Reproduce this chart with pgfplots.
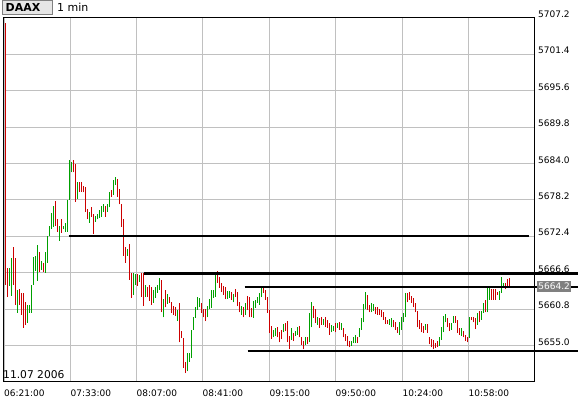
\documentclass[border=0pt]{standalone}
\usepackage{fontspec}
\setmainfont{DejaVu Sans}
\usepackage{pgfplots}
\pgfplotsset{compat=1.18}
\definecolor{upg}{RGB}{0,160,0}
\definecolor{dnr}{RGB}{204,0,0}
\definecolor{gridg}{RGB}{192,192,192}
\definecolor{boxg}{RGB}{230,230,230}
\definecolor{pxg}{RGB}{128,128,128}

\begin{document}
\begin{tikzpicture}
\useasboundingbox (-3bp,-17bp) rectangle (575bp,381bp);
\begin{axis}[
  scale only axis, width=531bp, height=363bp,
  xmin=2.5, xmax=533.5, ymin=5649.35, ymax=5707.2,
  clip=false, unbounded coords=jump,
  axis line style={black, line width=1bp},
  major tick length=0pt,
  xtick={3.5,70,136,202,269,335,402,468},
  xticklabels={06:21:00,07:33:00,08:07:00,08:41:00,09:15:00,09:50:00,10:24:00,10:58:00},
  ytick={5655.0,5660.8,5666.6,5672.4,5678.2,5684.0,5689.8,5695.6,5701.4,5707.2},
  yticklabels={5655.0,5660.8,5666.6,5672.4,5678.2,5684.0,5689.8,5695.6,5701.4,5707.2},
  yticklabel pos=right,
  grid=major, major grid style={gridg, line width=1bp},
  xticklabel style={anchor=base west, inner sep=0pt, yshift=-15bp, font=\fontsize{9bp}{10bp}\selectfont},
  yticklabel style={anchor=base west, inner sep=0pt, xshift=4bp, yshift=0.5bp, font=\fontsize{9bp}{10bp}\selectfont},
]
% rising bars (green): each bar = (x,low) (x,high) (x,nan)
\addplot[upg, line width=1bp, mark=none, forget plot] coordinates {
(9,5664.5)(9,5667.4)(9,nan) (11,5662.9)(11,5669.0)(11,nan) (17,5660.2)(17,5663.9)(17,nan)
(27,5658.6)(27,5661.5)(27,nan) (29,5660.2)(29,5661.5)(29,nan) (31,5660.2)(31,5664.7)(31,nan)
(33,5664.7)(33,5669.1)(33,nan) (35,5666.9)(35,5669.3)(35,nan) (37,5665.3)(37,5671.1)(37,nan)
(41,5667.1)(41,5668.5)(41,nan) (45,5666.6)(45,5669.9)(45,nan) (47,5668.2)(47,5672.5)(47,nan)
(49,5672.5)(49,5674.1)(49,nan) (51,5673.5)(51,5676.2)(51,nan) (53,5673.9)(53,5677.3)(53,nan)
(59,5671.7)(59,5674.1)(59,nan) (63,5673.5)(63,5674.1)(63,nan) (65,5673.1)(65,5674.6)(65,nan)
(67,5673.1)(67,5678.2)(67,nan) (69,5678.2)(69,5684.6)(69,nan) (71,5682.6)(71,5684.2)(71,nan)
(77,5678.4)(77,5681.1)(77,nan) (89,5674.6)(89,5676.3)(89,nan) (95,5674.7)(95,5675.7)(95,nan)
(97,5675.1)(97,5675.9)(97,nan) (99,5675.4)(99,5676.6)(99,nan) (101,5675.5)(101,5677.3)(101,nan)
(103,5676.3)(103,5677.5)(103,nan) (107,5676.3)(107,5677.5)(107,nan) (109,5677.0)(109,5679.5)(109,nan)
(113,5679.0)(113,5681.4)(113,nan) (115,5680.6)(115,5681.9)(115,nan) (127,5669.3)(127,5670.4)(127,nan)
(133,5663.1)(133,5666.6)(133,nan) (135,5664.7)(135,5666.4)(135,nan) (139,5665.1)(139,5666.3)(139,nan)
(145,5662.7)(145,5664.7)(145,nan) (153,5661.8)(153,5663.9)(153,nan) (155,5662.6)(155,5664.3)(155,nan)
(157,5663.4)(157,5664.7)(157,nan) (159,5663.9)(159,5665.8)(159,nan) (163,5659.5)(163,5662.4)(163,nan)
(167,5661.6)(167,5663.2)(167,nan) (177,5658.9)(177,5660.7)(177,nan) (187,5650.9)(187,5653.8)(187,nan)
(189,5652.4)(189,5653.8)(189,nan) (191,5653.0)(191,5657.5)(191,nan) (193,5657.5)(193,5659.5)(193,nan)
(195,5659.4)(195,5661.1)(195,nan) (197,5660.7)(197,5662.7)(197,nan) (199,5661.1)(199,5662.6)(199,nan)
(207,5659.5)(207,5661.3)(207,nan) (209,5660.8)(209,5662.4)(209,nan) (211,5661.0)(211,5663.9)(211,nan)
(213,5662.6)(213,5663.9)(213,nan) (215,5662.7)(215,5666.3)(215,nan) (227,5662.4)(227,5663.7)(227,nan)
(229,5662.6)(229,5663.7)(229,nan) (233,5661.9)(233,5663.2)(233,nan) (241,5659.9)(241,5661.3)(241,nan)
(245,5659.9)(245,5661.8)(245,nan) (253,5659.4)(253,5662.1)(253,nan) (255,5661.0)(255,5662.3)(255,nan)
(257,5661.8)(257,5662.7)(257,nan) (259,5661.5)(259,5663.4)(259,nan) (261,5662.7)(261,5664.5)(261,nan)
(273,5656.3)(273,5657.5)(273,nan) (275,5656.5)(275,5657.8)(275,nan) (283,5657.1)(283,5658.4)(283,nan)
(291,5655.9)(291,5657.8)(291,nan) (295,5656.5)(295,5657.3)(295,nan) (297,5656.7)(297,5657.9)(297,nan)
(305,5655.1)(305,5656.3)(305,nan) (309,5655.5)(309,5660.2)(309,nan) (311,5657.9)(311,5661.9)(311,nan)
(317,5658.3)(317,5659.5)(317,nan) (323,5658.3)(323,5659.2)(323,nan) (331,5657.1)(331,5658.3)(331,nan)
(333,5657.3)(333,5658.1)(333,nan) (337,5657.8)(337,5658.6)(337,nan) (341,5657.5)(341,5658.6)(341,nan)
(351,5654.9)(351,5655.7)(351,nan) (353,5655.4)(353,5656.3)(353,nan) (355,5655.4)(355,5656.7)(355,nan)
(359,5656.3)(359,5657.8)(359,nan) (361,5657.5)(361,5659.4)(361,nan) (363,5658.7)(363,5661.6)(363,nan)
(365,5660.8)(365,5663.5)(365,nan) (371,5660.3)(371,5661.8)(371,nan) (373,5660.5)(373,5661.6)(373,nan)
(389,5658.3)(389,5659.2)(389,nan) (391,5657.9)(391,5659.4)(391,nan) (399,5656.7)(399,5658.7)(399,nan)
(401,5657.5)(401,5659.5)(401,nan) (403,5658.7)(403,5660.2)(403,nan) (405,5659.5)(405,5663.4)(405,nan)
(425,5657.5)(425,5658.4)(425,nan) (439,5654.9)(439,5656.3)(439,nan) (441,5655.9)(441,5657.9)(441,nan)
(443,5657.1)(443,5659.7)(443,nan) (445,5658.7)(445,5660.0)(445,nan) (451,5657.5)(451,5658.6)(451,nan)
(453,5658.6)(453,5659.7)(453,nan) (461,5656.5)(461,5657.8)(461,nan) (469,5656.2)(469,5659.5)(469,nan)
(477,5658.3)(477,5660.2)(477,nan) (481,5659.1)(481,5660.5)(481,nan) (483,5660.2)(483,5661.8)(483,nan)
(487,5660.3)(487,5664.3)(487,nan) (489,5662.3)(489,5664.3)(489,nan) (499,5662.3)(499,5663.7)(499,nan)
(501,5663.4)(501,5665.9)(501,nan) (503,5664.3)(503,5665.0)(503,nan)
};
% falling bars (red)
\addplot[dnr, line width=1bp, mark=none, forget plot] coordinates {
(5,5664.7)(5,5706.4)(5,nan) (7,5662.7)(7,5667.4)(7,nan) (13,5664.7)(13,5670.7)(13,nan)
(15,5661.5)(15,5669.0)(15,nan) (19,5661.5)(19,5664.0)(19,nan) (21,5659.9)(21,5663.4)(21,nan)
(23,5657.8)(23,5663.4)(23,nan) (25,5658.3)(25,5661.9)(25,nan) (39,5666.7)(39,5669.9)(39,nan)
(43,5666.7)(43,5668.2)(43,nan) (55,5674.1)(55,5678.1)(55,nan) (57,5673.1)(57,5675.2)(57,nan)
(61,5673.0)(61,5675.2)(61,nan) (73,5682.6)(73,5684.6)(73,nan) (75,5677.9)(75,5684.0)(75,nan)
(79,5679.5)(79,5681.0)(79,nan) (81,5679.5)(81,5681.0)(81,nan) (83,5679.4)(83,5680.5)(83,nan)
(85,5676.3)(85,5680.3)(85,nan) (87,5675.1)(87,5676.8)(87,nan) (91,5675.5)(91,5677.1)(91,nan)
(93,5672.7)(93,5675.9)(93,nan) (105,5675.5)(105,5677.3)(105,nan) (111,5678.7)(111,5679.8)(111,nan)
(117,5678.7)(117,5681.6)(117,nan) (119,5677.5)(119,5680.0)(119,nan) (121,5673.9)(121,5677.6)(121,nan)
(123,5669.3)(123,5675.1)(123,nan) (125,5668.2)(125,5670.7)(125,nan) (129,5665.5)(129,5671.2)(129,nan)
(131,5662.6)(131,5666.6)(131,nan) (137,5664.5)(137,5666.4)(137,nan) (141,5662.7)(141,5666.6)(141,nan)
(143,5661.3)(143,5666.6)(143,nan) (147,5662.7)(147,5664.3)(147,nan) (149,5662.1)(149,5664.7)(149,nan)
(151,5661.5)(151,5664.3)(151,nan) (161,5660.3)(161,5665.5)(161,nan) (165,5661.1)(165,5663.9)(165,nan)
(169,5661.8)(169,5662.7)(169,nan) (171,5660.2)(171,5661.9)(171,nan) (173,5659.9)(173,5661.3)(173,nan)
(175,5659.7)(175,5661.1)(175,nan) (179,5655.5)(179,5661.8)(179,nan) (181,5656.2)(181,5657.3)(181,nan)
(183,5651.4)(183,5656.2)(183,nan) (185,5650.6)(185,5652.4)(185,nan) (201,5660.2)(201,5661.8)(201,nan)
(203,5659.5)(203,5660.8)(203,nan) (205,5658.9)(205,5660.8)(205,nan) (217,5665.0)(217,5666.9)(217,nan)
(219,5664.2)(219,5665.9)(219,nan) (221,5663.5)(221,5665.0)(221,nan) (223,5663.1)(223,5664.5)(223,nan)
(225,5662.4)(225,5664.3)(225,nan) (231,5662.3)(231,5663.5)(231,nan) (235,5662.7)(235,5664.0)(235,nan)
(237,5661.3)(237,5663.5)(237,nan) (239,5660.3)(239,5661.9)(239,nan) (243,5659.5)(243,5661.1)(243,nan)
(247,5660.7)(247,5662.9)(247,nan) (249,5659.5)(249,5662.7)(249,nan) (251,5659.5)(251,5661.0)(251,nan)
(263,5663.4)(263,5664.5)(263,nan) (265,5662.3)(265,5663.9)(265,nan) (267,5660.2)(267,5662.7)(267,nan)
(269,5657.0)(269,5660.7)(269,nan) (271,5656.0)(271,5658.1)(271,nan) (277,5656.3)(277,5657.9)(277,nan)
(279,5655.5)(279,5657.1)(279,nan) (281,5656.0)(281,5657.5)(281,nan) (285,5657.3)(285,5658.6)(285,nan)
(287,5655.5)(287,5658.9)(287,nan) (289,5654.4)(289,5656.5)(289,nan) (293,5655.7)(293,5657.0)(293,nan)
(299,5656.3)(299,5658.1)(299,nan) (301,5655.1)(301,5656.3)(301,nan) (303,5654.4)(303,5655.7)(303,nan)
(307,5655.2)(307,5656.3)(307,nan) (313,5659.4)(313,5661.3)(313,nan) (315,5658.6)(315,5660.8)(315,nan)
(319,5657.8)(319,5659.4)(319,nan) (321,5658.3)(321,5659.5)(321,nan) (325,5657.9)(325,5659.5)(325,nan)
(327,5657.8)(327,5659.1)(327,nan) (329,5656.7)(329,5658.6)(329,nan) (335,5657.1)(335,5658.6)(335,nan)
(339,5657.5)(339,5658.7)(339,nan) (343,5656.3)(343,5657.8)(343,nan) (345,5655.7)(345,5656.8)(345,nan)
(347,5654.9)(347,5656.5)(347,nan) (349,5654.7)(349,5655.7)(349,nan) (357,5655.4)(357,5656.3)(357,nan)
(367,5660.7)(367,5663.1)(367,nan) (369,5660.3)(369,5661.5)(369,nan) (375,5660.0)(375,5661.1)(375,nan)
(377,5659.9)(377,5661.1)(377,nan) (379,5659.9)(379,5660.8)(379,nan) (381,5659.5)(381,5660.7)(381,nan)
(383,5659.1)(383,5660.3)(383,nan) (385,5658.4)(385,5659.5)(385,nan) (387,5658.4)(387,5659.1)(387,nan)
(393,5657.9)(393,5659.1)(393,nan) (395,5657.5)(395,5658.7)(395,nan) (397,5657.0)(397,5657.9)(397,nan)
(407,5661.9)(407,5663.4)(407,nan) (409,5662.3)(409,5663.5)(409,nan) (411,5661.8)(411,5662.9)(411,nan)
(413,5661.1)(413,5662.6)(413,nan) (415,5660.3)(415,5661.8)(415,nan) (417,5657.9)(417,5660.5)(417,nan)
(419,5657.6)(419,5659.1)(419,nan) (421,5657.1)(421,5658.6)(421,nan) (423,5657.0)(423,5658.1)(423,nan)
(427,5657.0)(427,5658.4)(427,nan) (429,5655.2)(429,5656.3)(429,nan) (431,5654.7)(431,5656.0)(431,nan)
(433,5654.4)(433,5655.9)(433,nan) (435,5654.6)(435,5655.4)(435,nan) (437,5654.7)(437,5655.7)(437,nan)
(447,5657.9)(447,5659.4)(447,nan) (449,5657.3)(449,5658.6)(449,nan) (455,5658.6)(455,5659.7)(455,nan)
(457,5657.0)(457,5659.1)(457,nan) (459,5656.7)(459,5657.8)(459,nan) (463,5656.3)(463,5657.3)(463,nan)
(465,5655.7)(465,5656.7)(465,nan) (467,5655.5)(467,5656.3)(467,nan) (471,5659.1)(471,5659.5)(471,nan)
(473,5658.7)(473,5659.5)(473,nan) (475,5657.6)(475,5659.4)(475,nan) (479,5658.7)(479,5660.5)(479,nan)
(485,5660.3)(485,5662.3)(485,nan) (491,5662.3)(491,5664.0)(491,nan) (493,5662.3)(493,5664.0)(493,nan)
(495,5662.3)(495,5664.0)(495,nan) (497,5663.1)(497,5663.5)(497,nan) (505,5664.0)(505,5665.0)(505,nan)
(507,5664.2)(507,5665.6)(507,nan) (509,5664.3)(509,5665.8)(509,nan)
};
% support / resistance lines
\addplot[black, line width=2bp, forget plot] coordinates {(68,5672.5) (528,5672.5)};
\addplot[black, line width=3bp, forget plot] coordinates {(143,5666.5) (578,5666.5)};
\addplot[black, line width=2bp, forget plot] coordinates {(244,5664.4) (578,5664.4)};
\addplot[black, line width=2bp, forget plot] coordinates {(247,5654.2) (578,5654.2)};
\node[fill=pxg, text=white, anchor=west, minimum width=34bp, minimum height=11bp,
  inner sep=0pt, font=\fontsize{9bp}{10bp}\selectfont] at (axis cs:536.5,5664.4) {5664.2};
\end{axis}
\draw[draw=pxg, fill=boxg, line width=1bp] (-0.3bp,366bp) rectangle (49.3bp,380bp);
\node[anchor=base west, inner sep=0pt, font=\bfseries\fontsize{11bp}{12bp}\selectfont] at (2.5bp,369bp) {DAAX};
\node[anchor=base west, inner sep=0pt, font=\fontsize{11bp}{12bp}\selectfont] at (54bp,369bp) {1 min};
\node[anchor=base west, inner sep=0pt, font=\fontsize{10.7bp}{12bp}\selectfont] at (0bp,3bp) {11.07 2006};
\end{tikzpicture}
\end{document}
